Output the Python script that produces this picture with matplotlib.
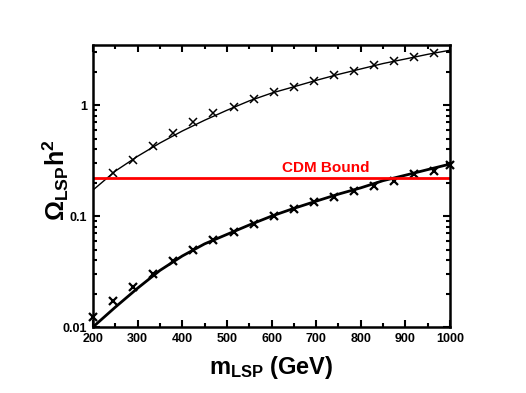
import numpy as np
import matplotlib
matplotlib.use("Agg")
import matplotlib.pyplot as plt
from matplotlib.ticker import LogLocator, FixedLocator, FixedFormatter, NullFormatter, MultipleLocator

# Fonts: bold Arial look-alike
plt.rcParams['font.family'] = ['Liberation Sans', 'DejaVu Sans']
plt.rcParams['font.weight'] = 'bold'
plt.rcParams['mathtext.fontset'] = 'custom'
plt.rcParams['mathtext.rm'] = 'Liberation Sans:bold'
plt.rcParams['mathtext.bf'] = 'Liberation Sans:bold'
plt.rcParams['mathtext.it'] = 'Liberation Sans:bold'

# Data
m_points = [245, 290, 335, 380, 425, 470, 515, 560, 605, 650, 695, 740, 785, 830, 875, 920, 965]
upper_points = [0.245, 0.318, 0.43, 0.56, 0.71, 0.85, 0.97, 1.13, 1.31, 1.47, 1.67, 1.86, 2.06, 2.29, 2.50, 2.74, 2.97]

m_points_low = [200, 245, 290, 335, 380, 425, 470, 515, 560, 605, 650, 695, 740, 785, 830, 875, 920, 965, 1000]
lower_points = [0.0122, 0.017, 0.0228, 0.030, 0.039, 0.0495, 0.061, 0.0723, 0.0853, 0.100, 0.115, 0.134,
                0.149, 0.168, 0.188, 0.206, 0.242, 0.257, 0.287]

m_curve = [200, 250, 300, 350, 400, 450, 500, 550, 600, 650, 700, 750, 800, 850, 900, 950, 1000]
upper_curve = [0.172, 0.255, 0.347, 0.457, 0.586, 0.733, 0.902, 1.096, 1.288, 1.469, 1.679, 1.901, 2.128,
               2.382, 2.618, 2.884, 3.14]
lower_curve = [0.0100, 0.0151, 0.0224, 0.0324, 0.0437, 0.0562, 0.0684, 0.0832, 0.100, 0.1175, 0.1365,
               0.158, 0.180, 0.209, 0.234, 0.263, 0.295]

cdm_bound = 0.221

fig = plt.figure(figsize=(5.26, 3.93), dpi=100)
ax = fig.add_axes([93 / 526, 1 - 327 / 393, 357 / 526, 282 / 393])

ax.plot(m_curve, upper_curve, color='black', lw=1.0)
ax.plot(m_points, upper_points, 'x', color='black', ms=6, mew=1.1)
ax.plot(m_curve, lower_curve, color='black', lw=2.0)
ax.plot(m_points_low, lower_points, 'x', color='black', ms=6, mew=1.6, clip_on=False)

ax.axhline(cdm_bound, color='red', lw=2)
ax.text(722, 0.272, 'CDM Bound', color='red', fontsize=11, fontweight='bold', ha='center', va='center')

ax.set_yscale('log')
ax.set_xlim(200, 1000)
ax.set_ylim(0.01, 3.5)

ax.xaxis.set_major_locator(MultipleLocator(100))
ax.xaxis.set_minor_locator(MultipleLocator(50))
ax.yaxis.set_major_locator(FixedLocator([0.01, 0.1, 1]))
ax.yaxis.set_major_formatter(FixedFormatter(['0.01', '0.1', '1']))
ax.yaxis.set_minor_locator(LogLocator(base=10, subs=np.arange(2, 10)))
ax.yaxis.set_minor_formatter(NullFormatter())

ax.tick_params(which='both', direction='in', top=True, right=True, labelsize=9, width=1.5)
ax.tick_params(which='major', length=5, pad=4)
ax.tick_params(which='minor', length=3)
for lab in ax.get_xticklabels() + ax.get_yticklabels():
    lab.set_fontweight('bold')
for sp in ax.spines.values():
    sp.set_linewidth(1.8)

ax.set_xlabel(r'$\mathregular{m_{LSP}}$ (GeV)', fontsize=17, fontweight='bold', va='top')
ax.set_ylabel(r'$\mathregular{Ω_{LSP}h^2}$', fontsize=18, fontweight='bold')
ax.xaxis.set_label_coords(0.5, -0.095)
ax.yaxis.set_label_coords(-0.062, 0.52)

fig.savefig('out.png', dpi=100)
